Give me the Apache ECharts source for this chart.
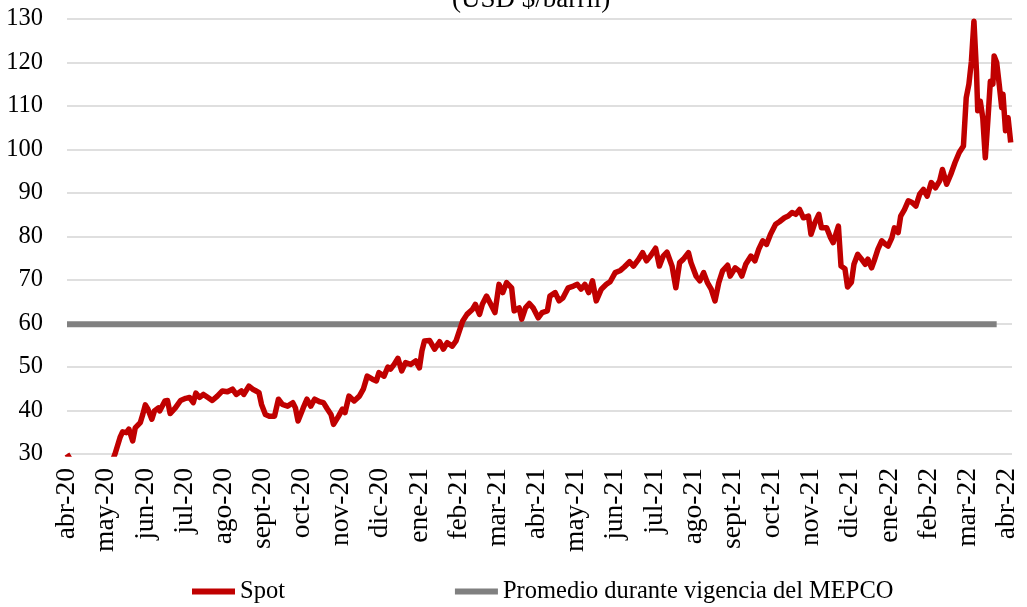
<!DOCTYPE html>
<html>
<head>
<meta charset="utf-8">
<script src="https://cdn.jsdelivr.net/npm/echarts@6/dist/echarts.min.js"></script>
<style>
html,body{margin:0;padding:0;background:#ffffff;}
#chart{width:1027px;height:607px;}
</style>
</head>
<body>
<div id="chart"></div>
<script>
// ---- data ----
const monthLabels = ['abr-20','may-20','jun-20','jul-20','ago-20','sept-20','oct-20','nov-20','dic-20',
  'ene-21','feb-21','mar-21','abr-21','may-21','jun-21','jul-21','ago-21','sept-21','oct-21','nov-21','dic-21',
  'ene-22','feb-22','mar-22','abr-22'];

const dates = [
'2020-04-01','2020-04-07','2020-04-14','2020-04-21','2020-04-28','2020-05-04','2020-05-08','2020-05-12','2020-05-14','2020-05-17',
'2020-05-19','2020-05-22','2020-05-24','2020-05-28','2020-05-30','2020-06-01','2020-06-03','2020-06-06','2020-06-08','2020-06-11',
'2020-06-12','2020-06-16','2020-06-18','2020-06-20','2020-06-24','2020-06-28','2020-07-02','2020-07-05','2020-07-08','2020-07-10',
'2020-07-13','2020-07-16','2020-07-19','2020-07-23','2020-07-27','2020-07-31','2020-08-04','2020-08-08','2020-08-11','2020-08-15',
'2020-08-17','2020-08-21','2020-08-24','2020-08-26','2020-08-29','2020-08-31','2020-09-03','2020-09-06','2020-09-10','2020-09-13',
'2020-09-16','2020-09-20','2020-09-24','2020-09-26','2020-09-28','2020-10-02','2020-10-05','2020-10-08','2020-10-11','2020-10-15',
'2020-10-18','2020-10-21','2020-10-24','2020-10-26','2020-10-30','2020-11-02','2020-11-04','2020-11-07','2020-11-11','2020-11-15',
'2020-11-18','2020-11-21','2020-11-25','2020-11-28','2020-11-30','2020-12-04','2020-12-07','2020-12-09','2020-12-12','2020-12-15',
'2020-12-18','2020-12-21','2020-12-25','2020-12-29','2021-01-01','2021-01-03','2021-01-05','2021-01-09','2021-01-13','2021-01-17',
'2021-01-20','2021-01-23','2021-01-27','2021-01-30','2021-02-02','2021-02-04','2021-02-07','2021-02-11','2021-02-13','2021-02-16',
'2021-02-18','2021-02-21','2021-02-24','2021-02-27','2021-03-02','2021-03-05','2021-03-08','2021-03-12','2021-03-14','2021-03-18',
'2021-03-20','2021-03-23','2021-03-26','2021-03-29','2021-04-02','2021-04-05','2021-04-09','2021-04-11','2021-04-15','2021-04-18',
'2021-04-21','2021-04-25','2021-04-29','2021-05-02','2021-05-05','2021-05-08','2021-05-11','2021-05-14','2021-05-17','2021-05-21',
'2021-05-25','2021-05-28','2021-06-01','2021-06-05','2021-06-08','2021-06-12','2021-06-15','2021-06-19','2021-06-22','2021-06-25',
'2021-06-28','2021-07-02','2021-07-05','2021-07-08','2021-07-11','2021-07-15','2021-07-18','2021-07-21','2021-07-24','2021-07-28',
'2021-07-30','2021-08-03','2021-08-06','2021-08-09','2021-08-12','2021-08-15','2021-08-18','2021-08-21','2021-08-24','2021-08-28',
'2021-08-30','2021-09-03','2021-09-06','2021-09-08','2021-09-11','2021-09-15','2021-09-18','2021-09-21','2021-09-24','2021-09-27',
'2021-09-30','2021-10-04','2021-10-07','2021-10-11','2021-10-14','2021-10-17','2021-10-20','2021-10-23','2021-10-26','2021-10-30',
'2021-11-01','2021-11-04','2021-11-07','2021-11-09','2021-11-13','2021-11-16','2021-11-18','2021-11-22','2021-11-24','2021-11-27',
'2021-11-29','2021-12-02','2021-12-04','2021-12-07','2021-12-10','2021-12-13','2021-12-15','2021-12-18','2021-12-20','2021-12-23',
'2021-12-26','2021-12-29','2021-12-31','2022-01-03','2022-01-05','2022-01-08','2022-01-10','2022-01-13','2022-01-16','2022-01-19',
'2022-01-22','2022-01-25','2022-01-28','2022-01-31','2022-02-03','2022-02-06','2022-02-09','2022-02-11','2022-02-14','2022-02-17',
'2022-02-20','2022-02-23','2022-02-26','2022-02-28','2022-03-02','2022-03-04','2022-03-06','2022-03-08','2022-03-09','2022-03-11',
'2022-03-13','2022-03-15','2022-03-17','2022-03-19','2022-03-21','2022-03-22','2022-03-24','2022-03-26','2022-03-28','2022-03-29',
'2022-03-31','2022-04-02','2022-04-04'
];

const spot = [
30.0,27.0,24.0,19.0,21.0,27.0,30.0,33.8,35.1,34.9,
35.7,33.0,36.0,37.2,39.1,41.3,40.3,38.0,39.9,40.6,
39.9,42.2,42.3,39.3,40.6,42.3,42.8,43.0,41.8,44.0,
43.0,43.7,43.1,42.3,43.3,44.5,44.3,44.9,43.7,44.5,
43.7,45.6,44.9,44.6,44.1,41.4,39.1,38.7,38.7,42.6,
41.4,41.0,41.8,40.6,37.6,40.6,42.6,41.0,42.6,42.0,
41.8,40.4,39.1,36.8,38.7,40.3,39.5,43.3,42.2,43.3,
44.9,47.9,47.2,46.8,48.7,47.9,50.0,49.5,50.6,52.0,
49.1,51.0,50.6,51.4,49.8,53.7,56.0,56.1,54.1,55.8,
54.1,55.6,54.8,56.0,58.7,60.6,62.1,63.3,64.4,62.1,
64.4,66.3,64.4,62.5,69.0,67.1,69.4,68.2,62.9,63.6,
61.0,63.6,64.6,63.6,61.3,62.5,62.9,66.3,67.1,65.2,
65.9,68.2,68.6,69.0,67.9,69.0,67.1,69.8,65.2,67.9,
69.0,69.6,71.7,72.2,73.0,74.2,73.2,74.8,76.3,74.4,
75.5,77.3,73.2,75.5,76.4,73.2,68.2,74.0,74.8,76.3,
74.0,70.9,69.8,71.7,69.4,67.9,65.2,69.4,72.1,73.4,
70.9,72.8,72.1,70.9,73.6,75.5,74.4,77.1,79.0,78.2,
80.5,82.8,83.4,84.3,84.7,85.5,85.1,86.2,84.3,84.7,
80.5,83.2,85.1,82.0,82.0,79.7,78.6,82.4,73.2,72.6,
68.4,69.5,73.6,75.9,74.8,73.6,74.8,72.8,74.4,77.1,
79.0,78.2,77.8,79.7,82.0,80.9,84.7,86.2,88.2,87.8,
87.0,89.7,90.8,89.3,92.4,91.2,92.8,95.4,92.0,94.3,
97.0,99.3,100.8,111.9,115.0,120.3,129.5,118.0,108.9,111.1,
107.3,98.1,106.6,115.7,115.0,121.5,120.0,115.0,109.6,112.7,
104.3,107.3,101.6
];

const promedioDates = ['2020-04-01','2022-03-24'];
const promedioValues = [59.8, 59.8];

const yMin = 30, yMax = 130, yStep = 10;
const xEnd = '2022-04-05';

// ---- helpers ----
function toMonth(s){
  const p = s.split('-').map(Number);
  const dim = new Date(p[0], p[1], 0).getDate();
  return (p[0]-2020)*12 + (p[1]-4) + (p[2]-1)/dim;
}

const serif = 'Liberation Serif, Times New Roman, serif';
const chart = echarts.init(document.getElementById('chart'));
chart.setOption({
  animation: false,
  backgroundColor: '#ffffff',
  title: {
    text: '(USD $/barril)',
    left: 452, top: -14, padding: 0,
    textStyle: {fontFamily: serif, fontSize: 27, fontWeight: 'normal', color: '#000'}
  },
  grid: {left: 67, right: 15, top: 19, bottom: 153, containLabel: false, outerBoundsMode: 'none'},
  legend: {
    data: ['Spot', 'Promedio durante vigencia del MEPCO'],
    left: 187, top: 574,
    icon: 'rect', itemWidth: 43, itemHeight: 6, itemGap: 170,
    textStyle: {fontFamily: serif, fontSize: 24.5, color: '#000'}
  },
  xAxis: {
    type: 'value', min: 0, max: toMonth(xEnd), interval: 1,
    axisLine: {show: false}, axisTick: {show: false}, splitLine: {show: false},
    axisLabel: {
      rotate: 90, margin: 14, fontFamily: serif, fontSize: 27.5, color: '#000',
      showMaxLabel: false,
      formatter: function(v){
        const r = Math.round(v);
        return Math.abs(v - r) < 1e-6 && monthLabels[r] ? monthLabels[r] : '';
      }
    }
  },
  yAxis: {
    type: 'value', min: yMin, max: yMax, interval: yStep,
    axisLine: {show: false}, axisTick: {show: false},
    splitLine: {lineStyle: {color: '#d4d4d4', width: 1.5}},
    axisLabel: {margin: 24, fontFamily: serif, fontSize: 24.5, color: '#000'}
  },
  series: [
    {
      name: 'Promedio durante vigencia del MEPCO', type: 'line', z: 2,
      showSymbol: false, symbol: 'none', color: '#808080',
      lineStyle: {color: '#808080', width: 6},
      data: promedioDates.map((d,i)=>[toMonth(d), promedioValues[i]])
    },
    {
      name: 'Spot', type: 'line', z: 3, clip: true,
      showSymbol: false, symbol: 'none', color: '#C00000',
      lineStyle: {color: '#C00000', width: 5.5, join: 'round'},
      data: dates.map((d,i)=>[toMonth(d), spot[i]])
    }
  ]
});
</script>
</body>
</html>
